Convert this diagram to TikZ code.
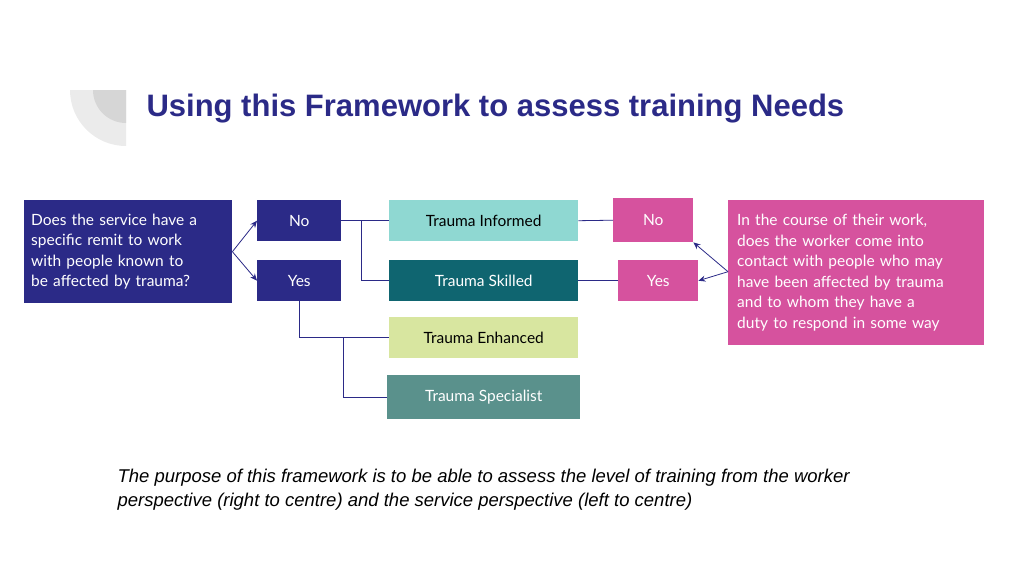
\documentclass[tikz,border=0pt]{standalone}
\usepackage{fontspec}
\setmainfont{Lato}
\newfontfamily\titlefont{Liberation Sans}
\usetikzlibrary{arrows.meta}
\definecolor{navy}{HTML}{2B2A87}
\definecolor{pinkbox}{HTML}{D6529E}
\definecolor{informed}{HTML}{8FD8D2}
\definecolor{skilled}{HTML}{0F6570}
\definecolor{enhanced}{HTML}{D8E6A0}
\definecolor{specialist}{HTML}{5A918C}

\begin{document}
\begin{tikzpicture}[x=1pt,y=-1pt,
  box/.style={draw=none, minimum height=41pt, inner sep=0pt, font=\fontsize{15.5}{18}\selectfont},
  link/.style={draw=navy, line width=0.8pt},
  pointer/.style={draw=navy, line width=0.8pt, -{Stealth[length=7pt,width=6pt]}}]
          \useasboundingbox (0,0) rectangle (1024,576);

          % corner ornament
          \fill[black!8] (126,90) -- (70,90) arc (180:90:56) -- cycle;
          \fill[black!16] (126,90) -- (93,90) arc (180:90:33) -- cycle;

          \node[anchor=west, text=navy, font=\titlefont\bfseries\fontsize{31}{36}\selectfont] (title) at (143,109) {Using this Framework to assess training Needs};

          % service side
          \node[box, fill=navy, text=white, anchor=north west, minimum width=208pt, minimum height=103pt, text width=194pt, align=left, font=\fontsize{15.5}{20.5}\selectfont] (service) at (24,200)
          {Does the service have a\\specific remit to work\\with people known to\\be affected by trauma?};
          \node[box, fill=navy, text=white, anchor=north west, minimum width=84pt] (sno) at (257,200) {No};
          \node[box, fill=navy, text=white, anchor=north west, minimum width=84pt] (syes) at (257,260) {Yes};

          % levels
          \node[box, fill=informed, anchor=north west, minimum width=189pt] (informed) at (389,200) {Trauma Informed};
          \node[box, fill=skilled, text=white, anchor=north west, minimum width=189pt] (skilled) at (389,260) {Trauma Skilled};
          \node[box, fill=enhanced, anchor=north west, minimum width=189pt] (enhanced) at (389,317) {Trauma Enhanced};
          \node[box, fill=specialist, text=white, anchor=north west, minimum width=193pt, minimum height=44pt] (specialist) at (387,375) {Trauma Specialist};

          % worker side
          \node[box, fill=pinkbox, text=white, anchor=north west, minimum width=80pt, minimum height=44pt] (wno) at (613,198) {No};
          \node[box, fill=pinkbox, text=white, anchor=north west, minimum width=80pt] (wyes) at (618,260) {Yes};
          \node[box, fill=pinkbox, text=white, anchor=north west, minimum width=256pt, minimum height=145pt, text width=238pt, align=left, font=\fontsize{15.5}{20.5}\selectfont] (worker) at (728,200)
          {In the course of their work,\\does the worker come into\\contact with people who may\\have been affected by trauma\\and to whom they have a\\duty to respond in some way};

          \draw[pointer] (service.east) -- (sno.west);
          \draw[pointer] (service.east) -- (syes.west);
          \draw[link] (sno.east) -- (informed.west);
          \draw[link] (361,220) |- (skilled.west);
          \draw[link] (syes.south) |- (enhanced.west);
          \draw[link] (343,338) |- (specialist.west);
          \draw[link] (informed.east) -- (wno.west);
          \draw[link] (skilled.east) -- (wyes.west);
          \draw[pointer] (worker.west) ++(0,-1) -- (wno.south east);
          \draw[pointer] (worker.west) ++(0,-1) -- (wyes.east);

          \node[anchor=north west, align=left, font=\titlefont\itshape\fontsize{18.5}{24}\selectfont] (note) at (114,466)
          {The purpose of this framework is to be able to assess the level of training from the worker\\perspective (right to centre) and the service perspective (left to centre)};
\end{tikzpicture}
\end{document}
